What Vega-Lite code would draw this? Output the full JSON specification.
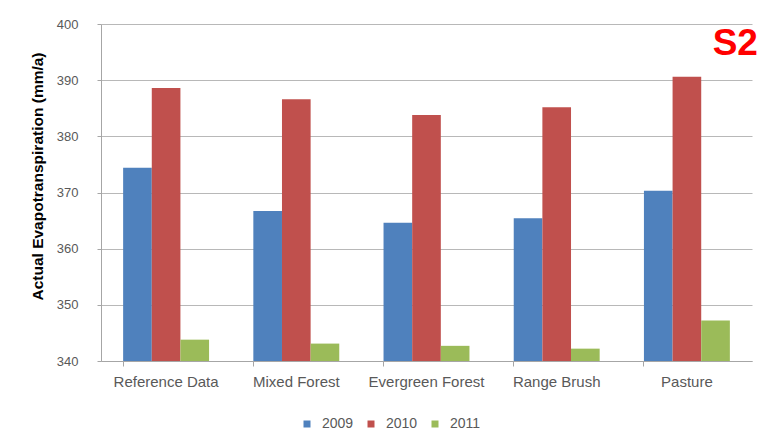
{
  "$schema": "https://vega.github.io/schema/vega-lite/v6.json",
  "width": 651,
  "height": 337,
  "autosize": {"type": "none"},
  "padding": {"left": 101, "top": 24, "right": 12, "bottom": 84},
  "background": "white",
  "datasets": {
    "bars": [
      {"cat": "Reference Data", "year": "2009", "value": 374.4},
      {"cat": "Reference Data", "year": "2010", "value": 388.6},
      {"cat": "Reference Data", "year": "2011", "value": 343.8},
      {"cat": "Mixed Forest", "year": "2009", "value": 366.7},
      {"cat": "Mixed Forest", "year": "2010", "value": 386.6},
      {"cat": "Mixed Forest", "year": "2011", "value": 343.1},
      {"cat": "Evergreen Forest", "year": "2009", "value": 364.6},
      {"cat": "Evergreen Forest", "year": "2010", "value": 383.8},
      {"cat": "Evergreen Forest", "year": "2011", "value": 342.7},
      {"cat": "Range Brush", "year": "2009", "value": 365.4},
      {"cat": "Range Brush", "year": "2010", "value": 385.2},
      {"cat": "Range Brush", "year": "2011", "value": 342.2},
      {"cat": "Pasture", "year": "2009", "value": 370.3},
      {"cat": "Pasture", "year": "2010", "value": 390.6},
      {"cat": "Pasture", "year": "2011", "value": 347.2}
    ],
    "label": [
      {"cat": "Pasture", "value": 394.5, "text": "S2"}
    ]
  },
  "layer": [
    {
      "data": {"name": "bars"},
      "mark": {"type": "bar"},
      "encoding": {
        "x": {
          "field": "cat",
          "type": "nominal",
          "sort": ["Reference Data", "Mixed Forest", "Evergreen Forest", "Range Brush", "Pasture"],
          "scale": {"paddingInner": 0.34, "paddingOuter": 0.17},
          "axis": {
            "title": null,
            "labelAngle": 0,
            "labelFont": "Liberation Sans",
            "labelFontSize": 15,
            "labelColor": "#595959",
            "labelPadding": 8,
            "bandPosition": 0,
            "ticks": true,
            "tickSize": 5,
            "tickColor": "#a6a6a6",
            "domainColor": "#a6a6a6",
            "grid": false
          }
        },
        "xOffset": {
          "field": "year",
          "type": "nominal",
          "scale": {"paddingInner": 0, "paddingOuter": 0}
        },
        "y": {
          "field": "value",
          "type": "quantitative",
          "scale": {"domain": [340, 400], "zero": false, "nice": false},
          "axis": {
            "title": "Actual Evapotranspiration  (mm/a)",
            "titleFont": "Liberation Sans",
            "titleFontSize": 15.5,
            "titleFontWeight": "bold",
            "titleColor": "#000000",
            "titleX": -64,
            "titleY": 152,
            "titleBaseline": "middle",
            "titleAngle": -90,
            "values": [340, 350, 360, 370, 380, 390, 400],
            "labelFont": "Liberation Sans",
            "labelFontSize": 13,
            "labelColor": "#595959",
            "labelPadding": 19,
            "tickSize": 4,
            "tickColor": "#a6a6a6",
            "domainColor": "#a6a6a6",
            "gridColor": "#b8b8b8",
            "grid": true
          }
        },
        "y2": {"datum": 340},
        "color": {
          "field": "year",
          "type": "nominal",
          "scale": {"domain": ["2009", "2010", "2011"], "range": ["#4F81BD", "#C0504D", "#9BBB59"]},
          "legend": {
            "title": null,
            "orient": "none",
            "direction": "horizontal",
            "legendX": 199,
            "legendY": 393,
            "padding": 0,
            "symbolType": "square",
            "symbolSize": 49,
            "symbolStrokeWidth": 0,
            "labelFont": "Liberation Sans",
            "labelFontSize": 14,
            "labelColor": "#595959",
            "labelOffset": 8,
            "columnPadding": 10
          }
        }
      }
    },
    {
      "data": {"name": "label"},
      "mark": {
        "type": "text",
        "align": "right",
        "baseline": "alphabetic",
        "dx": 71,
        "font": "Liberation Sans",
        "fontSize": 37,
        "fontWeight": "bold",
        "color": "#FF0000"
      },
      "encoding": {
        "x": {"field": "cat", "type": "nominal", "sort": ["Reference Data", "Mixed Forest", "Evergreen Forest", "Range Brush", "Pasture"]},
        "y": {"field": "value", "type": "quantitative"},
        "text": {"field": "text", "type": "nominal"}
      }
    }
  ],
  "config": {"view": {"stroke": null}}
}
